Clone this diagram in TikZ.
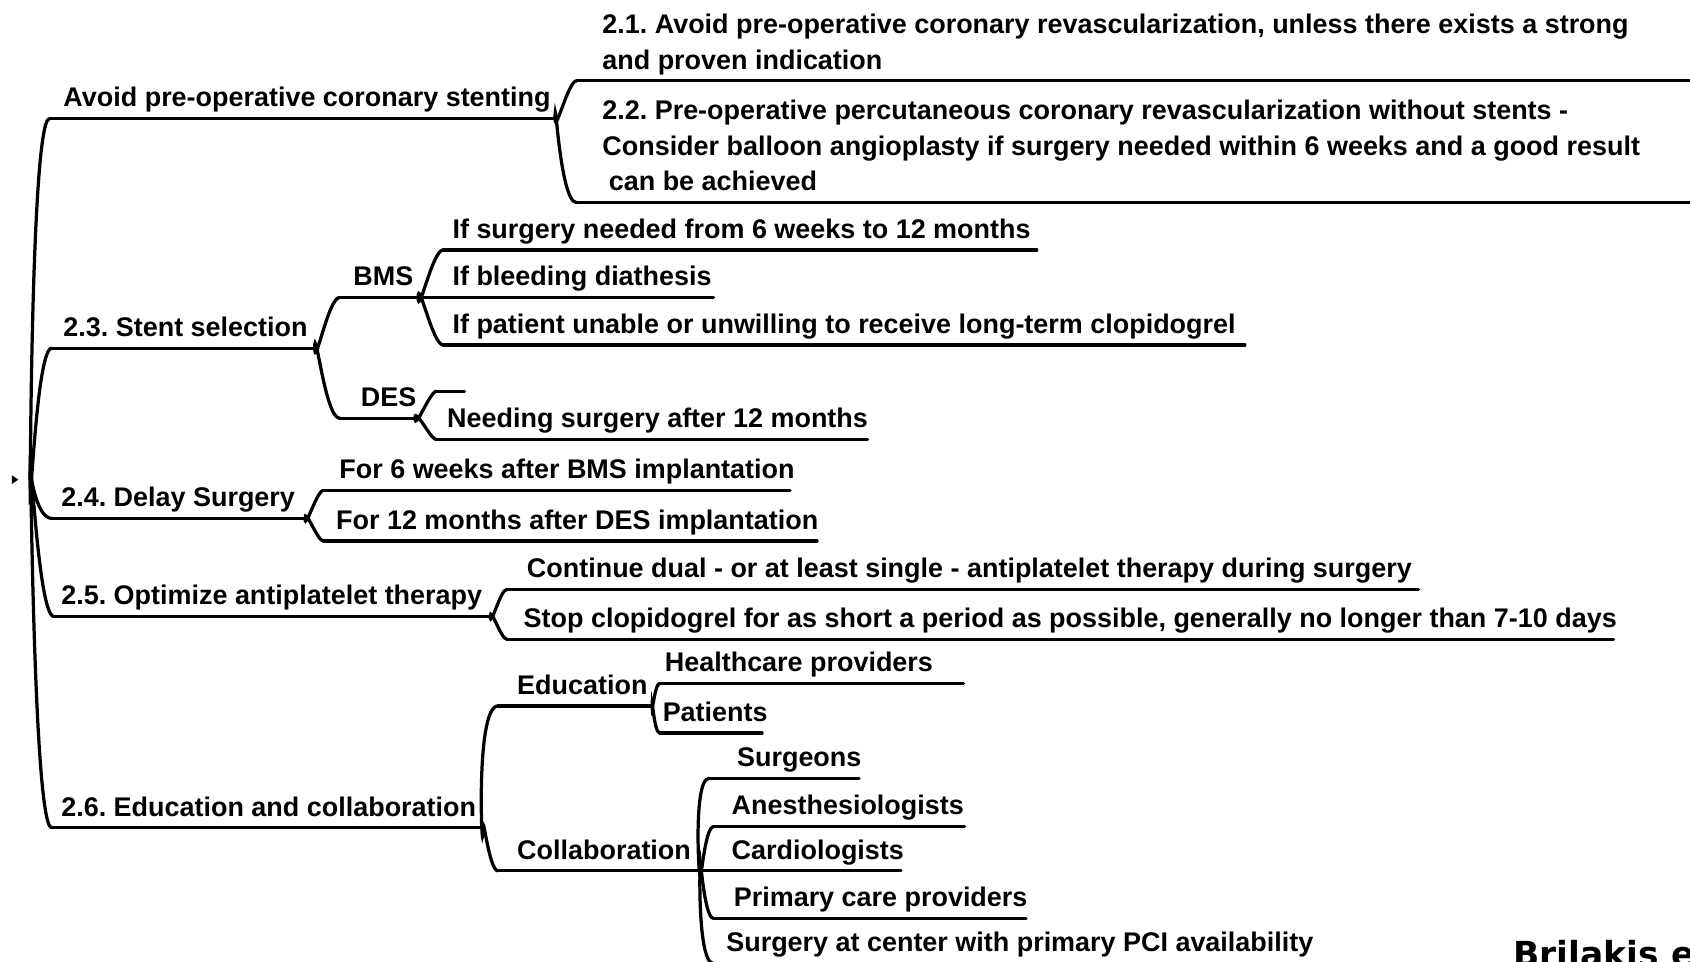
\documentclass[tikz,border=0pt]{standalone}
\usepackage{fontspec}
\setmainfont{Liberation Sans}
\newfontfamily\citefont{DejaVu Sans}
\frenchspacing

\tikzset{
  branch/.style={line width=1.5pt, line cap=round},
  topic/.style={anchor=south west, inner xsep=0.75pt, inner ysep=0pt, yshift=0.3pt,
    font=\fontsize{12.5}{16.5}\selectfont\bfseries,
    execute at begin node=\strut, execute at end node=\strut},
  rise/.style={out=90, in=180, in looseness=0.5},
  fall/.style={out=-90, in=180, in looseness=0.5},
}

% [node options]{name}{line start x}{line end x}{line y}{text x}{text}
\newcommand{\mmtopic}[7][]{%
  \coordinate (#2-s) at (#3,#5);
  \coordinate (#2-e) at (#4,#5);
  \node[topic,#1] (#2) at (#6,#5) {#7};
  \draw[branch] (#2-s) -- (#2-e);
}

\begin{document}
\begin{tikzpicture}[x=0.5pt,y=0.5pt,yscale=-1,xscale=1]
	\useasboundingbox (0,0) rectangle (1568,892);
	\clip (0,0) rectangle (1568,892);
	\coordinate (R) at (28,445);
	\fill[shift={(R)}] (-17,-4) -- (-11,0) -- (-17,4) -- cycle;

	\mmtopic{avoid}{46}{515}{110}{57}{Avoid pre-operative coronary stenting}
	\mmtopic[align=left]{t21}{535}{1580}{75}{557}{2.1. Avoid pre-operative coronary revascularization, unless there exists a strong\\and proven indication}
	\mmtopic[align=left]{t22}{535}{1580}{188}{557}{2.2. Pre-operative percutaneous coronary revascularization without stents -\\Consider balloon angioplasty if surgery needed within 6 weeks and a good result\\\hspace*{3pt}can be achieved}

	\mmtopic{s23}{48}{292}{323}{57}{2.3. Stent selection}
	\mmtopic{bms}{315}{388}{276}{326}{BMS}
	\mmtopic{b1}{411}{962}{232}{418}{If surgery needed from 6 weeks to 12 months}
	\mmtopic{b2}{388}{662}{276}{418}{If bleeding diathesis}
	\mmtopic{b3}{411}{1155}{320}{418}{If patient unable or unwilling to receive long-term clopidogrel}
	\mmtopic{des}{315}{385}{388}{333}{DES}
	\coordinate (d0-s) at (405,363);
	\coordinate (d0-e) at (431,363);
	\draw[branch] (d0-s) -- (d0-e);
	\mmtopic{d1}{405}{805}{408}{413}{Needing surgery after 12 months}

	\mmtopic{s24}{48}{283}{481}{55}{2.4. Delay Surgery}
	\mmtopic{w1}{300}{733}{455}{313}{For 6 weeks after BMS implantation}
	\mmtopic{w2}{300}{758}{502}{310}{For 12 months after DES implantation}

	\mmtopic{s25}{50}{455}{572}{55}{2.5. Optimize antiplatelet therapy}
	\mmtopic{c1}{470}{1316}{547}{487}{Continue dual - or at least single - antiplatelet therapy during surgery}
	\mmtopic{c2}{470}{1497}{593}{484}{Stop clopidogrel for as short a period as possible, generally no longer than 7-10 days}

	\mmtopic{s26}{48}{448}{768}{55}{2.6. Education and collaboration}
	\mmtopic{edu}{462}{605}{655}{478}{Education}
	\mmtopic{e1}{612}{894}{634}{615}{Healthcare providers}
	\mmtopic{e2}{612}{707}{680}{613}{Patients}
	\mmtopic{col}{462}{650}{808}{478}{Collaboration}
	\mmtopic{k1}{658}{797}{722}{682}{Surgeons}
	\mmtopic{k2}{662}{895}{767}{677}{Anesthesiologists}
	\mmtopic{k3}{650}{836}{808}{677}{Cardiologists}
	\mmtopic{k4}{662}{952}{852}{679}{Primary care providers}
	\mmtopic{k5}{662}{1220}{894}{672}{Surgery at center with primary PCI availability}

	\draw[branch] (R) to[rise, in looseness=0.15] (avoid-s);
	\draw[branch] (R) to[rise, in looseness=0.3] (s23-s);
	\draw[branch] (R) to[fall, in looseness=1] (s24-s);
	\draw[branch] (R) to[fall, in looseness=0.3] (s25-s);
	\draw[branch] (R) to[fall, in looseness=0.15] (s26-s);

	\draw[branch] (avoid-e) to[rise] (t21-s);
	\draw[branch] (avoid-e) to[fall] (t22-s);
	\draw[branch] (s23-e) to[rise] (bms-s);
	\draw[branch] (s23-e) to[fall] (des-s);
	\draw[branch] (bms-e) to[rise] (b1-s);
	\draw[branch] (bms-e) -- (b2-s);
	\draw[branch] (bms-e) to[fall] (b3-s);
	\draw[branch] (des-e) to[rise] (d0-s);
	\draw[branch] (des-e) to[fall] (d1-s);
	\draw[branch] (s24-e) to[rise] (w1-s);
	\draw[branch] (s24-e) to[fall] (w2-s);
	\draw[branch] (s25-e) to[rise] (c1-s);
	\draw[branch] (s25-e) to[fall] (c2-s);
	\draw[branch] (s26-e) to[rise] (edu-s);
	\draw[branch] (s26-e) to[fall] (col-s);
	\draw[branch] (edu-e) to[rise] (e1-s);
	\draw[branch] (edu-e) to[fall] (e2-s);
	\draw[branch] (col-e) to[rise] (k1-s);
	\draw[branch] (col-e) to[rise] (k2-s);
	\draw[branch] (col-e) -- (k3-s);
	\draw[branch] (col-e) to[fall] (k4-s);
	\draw[branch] (col-e) to[fall] (k5-s);

	\node[anchor=base west, inner sep=0pt, font=\citefont\bfseries\fontsize{16}{18}\selectfont] (cite) at (1404,897) {Brilakis e};
\end{tikzpicture}
\end{document}
